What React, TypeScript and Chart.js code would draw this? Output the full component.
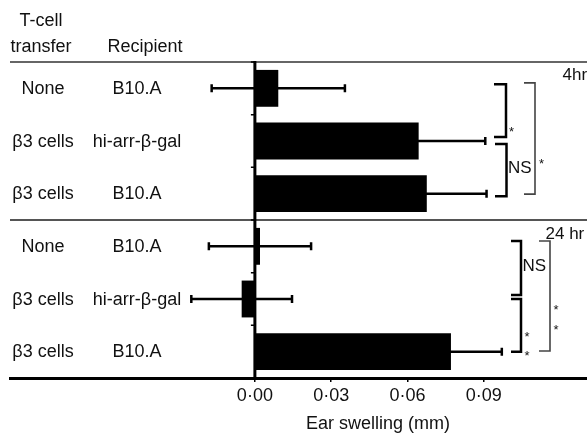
import React, { useEffect, useRef } from 'react';
import { Chart, registerables } from 'chart.js';
Chart.register(...registerables);

// ---- data ----
const transferLabels = ['None', 'β3 cells', 'β3 cells', 'None', 'β3 cells', 'β3 cells'];
const recipientLabels = ['B10.A', 'hi-arr-β-gal', 'B10.A', 'B10.A', 'hi-arr-β-gal', 'B10.A'];
const swellingMean = [0.0092, 0.0644, 0.0676, 0.002, -0.0052, 0.0771];
const swellingErr = [0.0262, 0.0262, 0.0235, 0.0201, 0.0198, 0.02];
const xTickValues = [0, 0.03, 0.06, 0.09];
const timepointLabels = ['4hr', '24 hr'];
const headerTransfer = ['T-cell', 'transfer'];
const headerRecipient = 'Recipient';
const axisTitle = 'Ear swelling (mm)';
const comparisonFrom = [0, 1, 0, 3, 4, 3];
const comparisonTo = [1, 2, 2, 4, 5, 5];
const comparisonLabels = ['*', 'NS', '*', 'NS', '**', '**'];

const FONT = '"Liberation Sans", Arial, Helvetica, sans-serif';
const X_MIN = -0.0963;
const X_MAX = 0.1306;

// bracket styling (pixel geometry, not data)
const bracketStyles = [
  { x: 506, arm: 12, dTop: -4, dBot: -4, color: '#000', w: 2.5, kind: 'star', lx: 5.5, ly: -9, gap: 0 },
  { x: 506.5, arm: 11.5, dTop: 3, dBot: 2.5, color: '#000', w: 2.5, kind: 'text', lx: 1.5, ly: -2, gap: 0 },
  { x: 535, arm: 11, dTop: -5.5, dBot: 0.5, color: '#444', w: 1.6, kind: 'star', lx: 6.5, ly: -34, gap: 0 },
  { x: 521, arm: 10, dTop: -5.3, dBot: -4, color: '#000', w: 2.5, kind: 'text', lx: 1.5, ly: -1.3, gap: 0 },
  { x: 521, arm: 10, dTop: 0, dBot: 0, color: '#000', w: 2.5, kind: 'star', lx: 6, ly: -18, gap: 18.5 },
  { x: 550, arm: 11, dTop: -5.3, dBot: -0.7, color: '#444', w: 1.6, kind: 'star', lx: 6, ly: -44, gap: 20 },
];

const overlayPlugin = {
  id: 'overlay',
  afterDatasetsDraw(chart: any) {
    const ctx = chart.ctx as CanvasRenderingContext2D;
    const xs = chart.scales.x;
    const ys = chart.scales.y;
    const area = chart.chartArea;
    const c = (i: number) => ys.getPixelForValue(i);
    const zero = xs.getPixelForValue(0);
    ctx.save();

    // error bars
    ctx.strokeStyle = '#000';
    ctx.lineWidth = 2.5;
    swellingMean.forEach((m, i) => {
      const y = c(i);
      const lo = xs.getPixelForValue(m - swellingErr[i]);
      const hi = xs.getPixelForValue(m + swellingErr[i]);
      ctx.beginPath();
      ctx.moveTo(lo, y);
      ctx.lineTo(hi, y);
      ctx.stroke();
      ctx.beginPath();
      ctx.moveTo(lo, y - 4);
      ctx.lineTo(lo, y + 4);
      ctx.moveTo(hi, y - 4);
      ctx.lineTo(hi, y + 4);
      ctx.stroke();
    });

    // separators
    ctx.strokeStyle = '#333';
    ctx.lineWidth = 1.5;
    ctx.beginPath();
    ctx.moveTo(area.left, area.top);
    ctx.lineTo(area.right, area.top);
    ctx.stroke();
    const mid = (c(2) + c(3)) / 2;
    ctx.strokeStyle = '#555';
    ctx.lineWidth = 2;
    ctx.beginPath();
    ctx.moveTo(area.left, mid);
    ctx.lineTo(area.right, mid);
    ctx.stroke();

    // vertical zero axis with category ticks
    ctx.strokeStyle = '#000';
    ctx.lineWidth = 3;
    ctx.beginPath();
    ctx.moveTo(zero, area.top - 1);
    ctx.lineTo(zero, area.bottom);
    ctx.stroke();
    ctx.lineWidth = 1.5;
    ctx.beginPath();
    for (let i = 0; i <= swellingMean.length; i++) {
      const y = ys.getPixelForValue(i - 0.5);
      ctx.moveTo(zero - 4, y);
      ctx.lineTo(zero, y);
    }
    ctx.stroke();

    // row labels
    ctx.fillStyle = '#111';
    ctx.font = `18px ${FONT}`;
    ctx.textAlign = 'center';
    ctx.textBaseline = 'alphabetic';
    transferLabels.forEach((t, i) => ctx.fillText(t, 43, c(i) + 5.7));
    recipientLabels.forEach((t, i) => ctx.fillText(t, 137, c(i) + 5.7));
    ctx.fillText(headerTransfer[0], 41, 26);
    ctx.fillText(headerTransfer[1], 41, 52);
    ctx.fillText(headerRecipient, 145, 52);

    // axis title
    ctx.fillText(axisTitle, 378, 429);

    // timepoints
    ctx.textAlign = 'left';
    ctx.font = `17px ${FONT}`;
    ctx.fillText(timepointLabels[0], 562.5, 79.5);
    ctx.fillText(timepointLabels[1], 545.5, 238.5);

    // brackets
    comparisonLabels.forEach((lab, k) => {
      const s = bracketStyles[k];
      const yT = c(comparisonFrom[k]) + s.dTop;
      const yB = c(comparisonTo[k]) + s.dBot;
      ctx.strokeStyle = s.color;
      ctx.lineWidth = s.w;
      ctx.beginPath();
      ctx.moveTo(s.x - s.arm, yT);
      ctx.lineTo(s.x, yT);
      ctx.lineTo(s.x, yB);
      ctx.lineTo(s.x - s.arm, yB);
      ctx.stroke();
      ctx.fillStyle = '#111';
      if (s.kind === 'text') {
        ctx.font = `17px ${FONT}`;
        ctx.textAlign = 'left';
        ctx.textBaseline = 'middle';
        ctx.fillText(lab, s.x + s.lx, (yT + yB) / 2 + s.ly);
      } else {
        ctx.font = `13px ${FONT}`;
        ctx.textAlign = 'center';
        ctx.textBaseline = 'alphabetic';
        lab.split('').forEach((ch, j) => {
          ctx.fillText(ch, s.x + s.lx, yB + s.ly + j * s.gap + 7.5);
        });
      }
    });

    ctx.restore();
  },
};

export default function App() {
  const ref = useRef<HTMLCanvasElement | null>(null);
  useEffect(() => {
    if (!ref.current) return;
    const chart = new Chart(ref.current, {
      type: 'bar',
      data: {
        labels: transferLabels.map((t, i) => `${t} ${recipientLabels[i]}`),
        datasets: [
          {
            data: swellingMean,
            backgroundColor: '#000',
            borderWidth: 0,
            barPercentage: 0.7,
            categoryPercentage: 1,
          },
        ],
      },
      options: {
        indexAxis: 'y',
        animation: false,
        responsive: false,
        layout: { padding: { top: 62, left: 10, right: 0, bottom: 0 } },
        plugins: { legend: { display: false }, tooltip: { enabled: false }, title: { display: false } },
        scales: {
          y: { display: false },
          x: {
            type: 'linear',
            min: X_MIN,
            max: X_MAX,
            afterBuildTicks: (axis: any) => {
              axis.ticks = xTickValues.map((v) => ({ value: v }));
            },
            afterFit: (axis: any) => {
              axis.height = 57;
            },
            grid: { drawOnChartArea: false, drawTicks: true, tickLength: 4, color: '#000', lineWidth: 1.5 },
            border: { display: true, color: '#000', width: 3 },
            ticks: {
              color: '#111',
              padding: 3,
              font: { size: 18, family: FONT },
              callback: (v: any) => Number(v).toFixed(2).replace('.', '·'),
            },
          },
        },
      },
      plugins: [overlayPlugin],
    } as any);
    return () => chart.destroy();
  }, []);
  return (
    <div style={{ position: 'absolute', left: 0, top: 0, width: 587, height: 435, background: '#fff' }}>
      <canvas ref={ref} width={587} height={435} />
    </div>
  );
}
